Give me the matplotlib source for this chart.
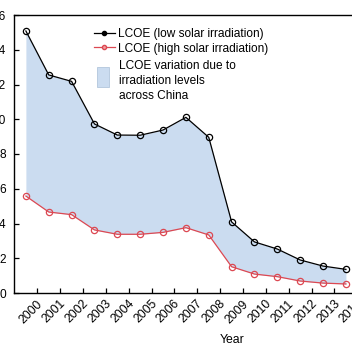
import matplotlib
matplotlib.use("Agg")
import matplotlib.pyplot as plt
from matplotlib.patches import Rectangle
from matplotlib.lines import Line2D
from matplotlib.transforms import ScaledTranslation

plt.rcParams['font.family'] = ['Liberation Sans', 'DejaVu Sans']

years = [2000, 2001, 2002, 2003, 2004, 2005, 2006, 2007, 2008, 2009, 2010, 2011, 2012, 2013, 2014]
lcoe_low = [15.08, 12.55, 12.18, 9.73, 9.09, 9.08, 9.38, 10.11, 8.96, 4.09, 2.94, 2.53, 1.90, 1.55, 1.36]
lcoe_high = [5.58, 4.66, 4.51, 3.63, 3.38, 3.38, 3.49, 3.76, 3.34, 1.51, 1.09, 0.94, 0.69, 0.57, 0.52]
yticks = [0, 2, 4, 6, 8, 10, 12, 14, 16]
legend_labels = ['LCOE (low solar irradiation)', 'LCOE (high solar irradiation)',
                 'LCOE variation due to\nirradiation levels\nacross China']

W, H = 352, 355
fig = plt.figure(figsize=(W / 100, H / 100), dpi=100)
x0 = 14
ppu = 22.86
xmin, xmax = -0.52, 15.0
right_px = x0 + (xmax - xmin) * ppu
ax = fig.add_axes([x0 / W, 1 - 293 / H, (right_px - x0) / W, 278 / H])

red = '#dc4852'
xs = [y - years[0] for y in years]
fill_col = '#cbdcf0'
ax.fill_between(xs, lcoe_high, lcoe_low, color=fill_col, lw=0, zorder=1)
ax.plot(xs, lcoe_low, color='black', lw=0.9, marker='o', ms=4.5, mfc='none', mec='black', mew=0.9, zorder=3)
ax.plot(xs, lcoe_high, color=red, lw=0.9, marker='o', ms=4.5, mfc='none', mec=red, mew=0.9, zorder=3)

ax.set_xlim(xmin, xmax)
ax.set_ylim(0, 16)
ax.set_yticks(yticks)
ax.set_yticklabels([str(v) for v in yticks], fontsize=8.6)
ax.set_xticks([x + 0.5 for x in xs])
ax.set_xticklabels([str(y) for y in years], fontsize=8.8, rotation=45, ha='right',
                   va='center', rotation_mode='anchor')
ax.tick_params(axis='y', direction='in', length=3.6, width=0.9, pad=6.0)
ax.tick_params(axis='x', direction='in', length=3.4, width=0.9, pad=6.5)
off = ScaledTranslation(3.5 / 100, 0, fig.dpi_scale_trans)
for lab in ax.get_xticklabels():
    lab.set_transform(lab.get_transform() + off)
for s in ax.spines.values():
    s.set_linewidth(1.0)
ax.spines['right'].set_visible(False)

fig.text(232 / W, 1 - 340 / H, 'Year', ha='center', va='center', fontsize=8.8)

# legend: two line entries
h1 = Line2D([], [], color='black', lw=0.9, marker='o', ms=3, mfc='black', mec='black')
h2 = Line2D([], [], color=red, lw=0.9, marker='o', ms=3, mfc='#f0a0a0', mec=red)
leg = fig.legend([h1, h2], legend_labels[:2],
                 loc='upper left', bbox_to_anchor=(94 / W, 1 - 28 / H),
                 frameon=False, fontsize=8.6, handlelength=1.75, handletextpad=0.3,
                 labelspacing=0.22, borderpad=0, borderaxespad=0)

# legend: patch entry
fig.patches.append(Rectangle((97 / W, 1 - 87 / H), 12 / W, 20 / H, transform=fig.transFigure,
                             facecolor=fill_col, edgecolor='#a8bfd6', lw=0.5))
fig.text(119 / W, 1 - 81 / H, legend_labels[2], ha='left', va='center', fontsize=8.6,
         linespacing=1.32)

fig.savefig('out.png', dpi=100)
